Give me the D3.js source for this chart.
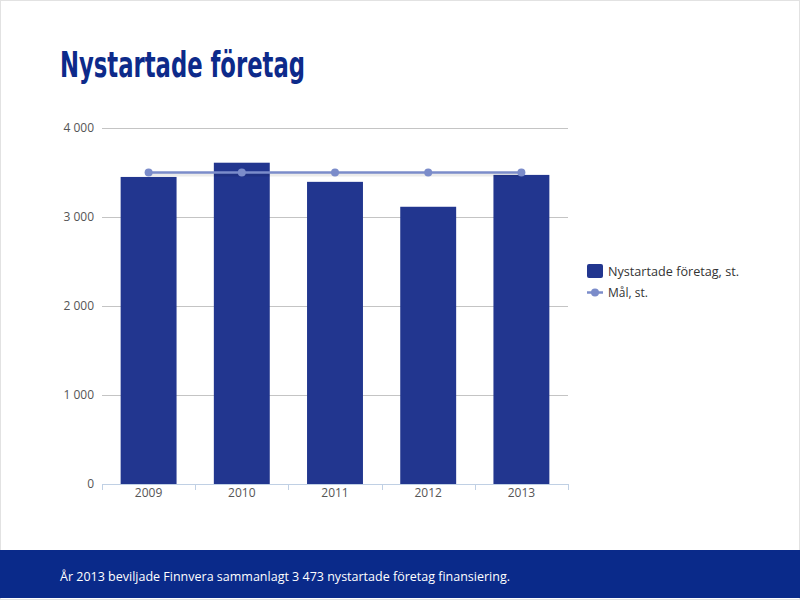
<!DOCTYPE html>
<html>
<head>
<meta charset="utf-8">
<script src="https://cdn.jsdelivr.net/npm/d3@7"></script>
<style>
  body { margin: 0; background: #fff; }
  svg { display: block; }
</style>
</head>
<body>
<div class="chart"></div>
<script>
// Data
var years = ['2009', '2010', '2011', '2012', '2013'];
var startups = [3450, 3610, 3395, 3115, 3473];
var target = [3500, 3500, 3500, 3500, 3500];
var yTicks = [0, 1000, 2000, 3000, 4000];

var W = 800, H = 600;
var margin = { left: 102, right: 232, top: 128, bottom: 116 };

var svg = d3.select('.chart').append('svg')
  .attr('width', W)
  .attr('height', H);

// frame
svg.append('rect')
  .attr('x', 0.5).attr('y', 0.5)
  .attr('width', W - 1).attr('height', H - 1)
  .attr('fill', '#fff')
  .attr('stroke', '#e2e2e2');

// title
svg.append('text')
  .attr('x', 60).attr('y', 77)
  .attr('fill', '#0d2a8a')
  .style('font-family', '"Liberation Sans Narrow", "DejaVu Sans Condensed", sans-serif')
  .style('font-weight', 'bold')
  .style('font-size', '36px')
  .attr('textLength', 245)
  .attr('lengthAdjust', 'spacingAndGlyphs')
  .text('Nystartade företag');

var x = d3.scaleBand()
  .domain(years)
  .range([margin.left, W - margin.right])
  .paddingInner(0.4)
  .paddingOuter(0.2);

var y = d3.scaleLinear()
  .domain([0, 4000])
  .range([H - margin.bottom, margin.top]);

var fmt = function(d) { return d3.format(',')(d).replace(',', ' '); };

// gridlines
svg.append('g')
  .selectAll('line')
  .data(yTicks.slice(1))
  .enter()
  .append('line')
  .attr('x1', margin.left)
  .attr('x2', W - margin.right)
  .attr('y1', function(d) { return Math.round(y(d)) + 0.5; })
  .attr('y2', function(d) { return Math.round(y(d)) + 0.5; })
  .attr('stroke', '#c4c4c4');

// y labels
svg.append('g')
  .selectAll('text')
  .data(yTicks)
  .enter()
  .append('text')
  .attr('x', 94)
  .attr('y', function(d) { return y(d) + 4; })
  .attr('text-anchor', 'end')
  .attr('fill', '#555')
  .style('font-family', '"Open Sans", sans-serif')
  .style('font-size', '12px')
  .text(fmt);

// bars
svg.append('g')
  .selectAll('rect')
  .data(startups)
  .enter()
  .append('rect')
  .attr('x', function(d, i) { return x(years[i]); })
  .attr('y', function(d) { return y(d); })
  .attr('width', x.bandwidth())
  .attr('height', function(d) { return y(0) - y(d); })
  .attr('fill', '#22368f');

// x axis
var step = x.step();
var xAxisG = svg.append('g');
xAxisG.append('line')
  .attr('x1', margin.left).attr('x2', W - margin.right)
  .attr('y1', y(0) + 0.5).attr('y2', y(0) + 0.5)
  .attr('stroke', '#c0d0e4');
xAxisG.selectAll('.tick')
  .data(d3.range(years.length + 1))
  .enter()
  .append('line')
  .attr('x1', function(i) { return Math.round(margin.left + i * step) + 0.5; })
  .attr('x2', function(i) { return Math.round(margin.left + i * step) + 0.5; })
  .attr('y1', y(0))
  .attr('y2', y(0) + 6)
  .attr('stroke', '#c0d0e4');
xAxisG.selectAll('text')
  .data(years)
  .enter()
  .append('text')
  .attr('x', function(d) { return x(d) + x.bandwidth() / 2; })
  .attr('y', y(0) + 13)
  .attr('text-anchor', 'middle')
  .attr('fill', '#555')
  .style('font-family', '"Open Sans", sans-serif')
  .style('font-size', '12px')
  .text(function(d) { return d; });

// target line
var line = d3.line()
  .x(function(d, i) { return x(years[i]) + x.bandwidth() / 2; })
  .y(function(d) { return y(d); });

svg.append('path')
  .datum(target)
  .attr('d', line)
  .attr('transform', 'translate(1,2)')
  .attr('fill', 'none')
  .attr('stroke', '#000')
  .attr('stroke-opacity', 0.08)
  .attr('stroke-width', 4);

svg.append('path')
  .datum(target)
  .attr('d', line)
  .attr('fill', 'none')
  .attr('stroke', '#7b8cca')
  .attr('stroke-width', 2.5);

svg.append('g')
  .selectAll('circle')
  .data(target)
  .enter()
  .append('circle')
  .attr('cx', function(d, i) { return x(years[i]) + x.bandwidth() / 2; })
  .attr('cy', function(d) { return y(d); })
  .attr('r', 4)
  .attr('fill', '#7b8cca');

// legend
var lg = svg.append('g');
lg.append('rect')
  .attr('x', 587).attr('y', 264)
  .attr('width', 16).attr('height', 14)
  .attr('rx', 2)
  .attr('fill', '#22368f');
lg.append('text')
  .attr('x', 608).attr('y', 276)
  .attr('fill', '#333')
  .style('font-family', '"Open Sans", sans-serif')
  .style('font-size', '12px')
  .attr('textLength', 131)
  .attr('lengthAdjust', 'spacingAndGlyphs')
  .text('Nystartade företag, st.');
lg.append('line')
  .attr('x1', 587).attr('x2', 603)
  .attr('y1', 292.5).attr('y2', 292.5)
  .attr('stroke', '#7b8cca')
  .attr('stroke-width', 2.5);
lg.append('circle')
  .attr('cx', 595).attr('cy', 292.5)
  .attr('r', 4)
  .attr('fill', '#7b8cca');
lg.append('text')
  .attr('x', 608).attr('y', 297)
  .attr('fill', '#333')
  .style('font-family', '"Open Sans", sans-serif')
  .style('font-size', '12px')
  .text('Mål, st.');

// footer
svg.append('rect')
  .attr('x', 0).attr('y', 550)
  .attr('width', W).attr('height', 48)
  .attr('fill', '#0a2a8a');
svg.append('text')
  .attr('x', 60).attr('y', 581)
  .attr('fill', '#fff')
  .style('font-family', '"Open Sans", sans-serif')
  .style('font-size', '13px')
  .attr('textLength', 450)
  .attr('lengthAdjust', 'spacingAndGlyphs')
  .text('År 2013 beviljade Finnvera sammanlagt 3 473 nystartade företag finansiering.');
</script>
</body>
</html>
